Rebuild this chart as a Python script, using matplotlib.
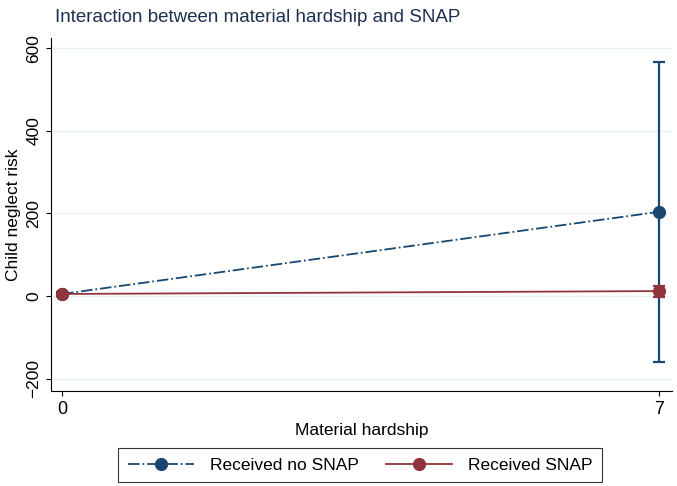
import matplotlib
matplotlib.use("Agg")
import matplotlib.pyplot as plt

plt.rcParams['font.family'] = ['Liberation Sans', 'DejaVu Sans']

hardship = [0, 7]
no_snap = [5, 204]
no_snap_lo = [0, -160]
no_snap_hi = [10, 567]
snap = [5, 12]
snap_lo = [2, -3]
snap_hi = [8, 25]

navy = '#1a476f'
maroon = '#90353b'

fig = plt.figure(figsize=(6.77, 4.86), dpi=100)
ax = fig.add_axes([0.0753, 0.1955, 0.9173, 0.7263])

err_ns = [[m - l for m, l in zip(no_snap, no_snap_lo)], [h - m for m, h in zip(no_snap, no_snap_hi)]]
err_s = [[m - l for m, l in zip(snap, snap_lo)], [h - m for m, h in zip(snap, snap_hi)]]

# confidence intervals
ax.errorbar(hardship, no_snap, yerr=err_ns, color=navy, linestyle='none',
            capsize=4, elinewidth=1.6, capthick=1.6, zorder=3)
ax.errorbar(hardship, snap, yerr=err_s, color=maroon, linestyle='none',
            capsize=4, elinewidth=1.6, capthick=1.6, zorder=3)
# point estimates
ax.plot(hardship, no_snap, color=navy, linestyle='-.', linewidth=1.3,
        marker='o', markersize=8.5, label='Received no SNAP', zorder=4)
ax.plot(hardship, snap, color=maroon, linestyle='-', linewidth=1.3,
        marker='o', markersize=8.5, label='Received SNAP', zorder=4)

ax.set_xlim(-0.13, 7.15)
ax.set_ylim(-230, 625)
ax.set_xticks([0, 7])
ax.set_yticks([-200, 0, 200, 400, 600])
ax.tick_params(axis='y', labelrotation=90, labelsize=12.5)
for lab in ax.get_yticklabels():
    lab.set_va('center')
ax.tick_params(axis='x', labelsize=13)
ax.grid(axis='y', color='#eaf2f3', linewidth=1)
ax.set_axisbelow(True)
for s in ['top', 'right']:
    ax.spines[s].set_visible(False)

ax.set_xlabel('Material hardship', fontsize=12.5)
ax.set_ylabel('Child neglect risk', fontsize=12.5, labelpad=4)
fig.text(0.38, 0.965, 'Interaction between material hardship and SNAP', ha='center', va='center',
         fontsize=13.5, color='#1e3050')

leg = fig.legend(loc='center', bbox_to_anchor=(0.532, 0.043), ncol=2, fontsize=12.5,
                 frameon=True, fancybox=False, edgecolor='black', handlelength=3.8,
                 handletextpad=0.9, columnspacing=1.6, borderpad=0.55)
leg.get_frame().set_linewidth(0.8)

fig.savefig('out.png', dpi=100)
